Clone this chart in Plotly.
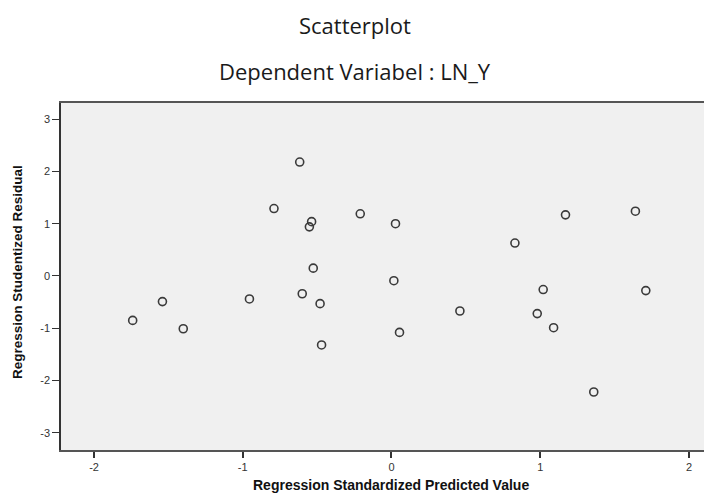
import plotly.graph_objects as go

# Regression standardized predicted values (x) and studentized residuals (y)
pred = [-1.74, -1.54, -1.40, -0.955, -0.79, -0.617, -0.60, -0.537, -0.552, -0.526,
        -0.48, -0.47, -0.21, 0.027, 0.016, 0.054, 0.46, 0.83, 0.98, 1.02,
        1.09, 1.17, 1.36, 1.64, 1.71]
resid = [-0.85, -0.49, -1.01, -0.44, 1.29, 2.18, -0.34, 1.04, 0.94, 0.15,
         -0.53, -1.32, 1.19, 1.00, -0.09, -1.08, -0.67, 0.63, -0.72, -0.26,
         -0.99, 1.17, -2.22, 1.24, -0.28]

x_ticks = [-2, -1, 0, 1, 2]
y_ticks = [-3, -2, -1, 0, 1, 2, 3]

title_line1 = "Scatterplot"
title_line2 = "Dependent Variabel : LN_Y"
x_title = "Regression Standardized Predicted Value"
y_title = "Regression Studentized Residual"

fig = go.Figure()
fig.add_trace(go.Scatter(
    x=pred, y=resid, mode="markers",
    marker=dict(symbol="circle-open", size=8, color="#3a3a3a", line=dict(width=1.6, color="#3a3a3a")),
    showlegend=False, hoverinfo="x+y",
))

axis_font = dict(family="Liberation Sans, Arial", size=11, color="#333333")

# page body has an 8px margin, so figure coords = reference coords - 8
fig.update_layout(
    width=704, height=485,
    margin=dict(l=53, r=0, t=95, b=43),
    paper_bgcolor="white",
    plot_bgcolor="#f0f0f0",
    showlegend=False,
    xaxis=dict(
        range=[-2.222, 2.155], tickvals=x_ticks, ticktext=[str(v) for v in x_ticks],
        showgrid=False, zeroline=False, showline=True, linecolor="#555555", linewidth=2,
        mirror=True, ticks="outside", ticklen=6, tickwidth=2, tickcolor="#333333",
        tickfont=axis_font,
    ),
    yaxis=dict(
        range=[-3.33, 3.31], tickvals=y_ticks, ticktext=[str(v) for v in y_ticks],
        showgrid=False, zeroline=False, showline=True, linecolor="#333333", linewidth=1.5,
        mirror=False, ticks="outside", ticklen=7, tickwidth=1, tickcolor="#333333",
        tickfont=axis_font,
    ),
    annotations=[
        dict(text=title_line1, xref="paper", yref="paper", x=0.452, y=1.0, yshift=78,
             showarrow=False, xanchor="center", yanchor="middle",
             font=dict(family="Open Sans, Noto Sans", size=22, color="#1a1a1a")),
        dict(text=title_line2, xref="paper", yref="paper", x=0.452, y=1.0, yshift=32,
             showarrow=False, xanchor="center", yanchor="middle",
             font=dict(family="Open Sans, Noto Sans", size=22, color="#1a1a1a")),
        dict(text="<b>" + x_title + "</b>", xref="x", yref="paper", x=0, y=0, yshift=-35,
             showarrow=False, xanchor="center", yanchor="middle",
             font=dict(family="Liberation Sans, Arial", size=14, color="#111111")),
        dict(text="<b>" + y_title + "</b>", xref="paper", yref="paper", x=0, y=0.513, xshift=-43,
             showarrow=False, xanchor="center", yanchor="middle", textangle=-90,
             font=dict(family="Liberation Sans, Arial", size=13.5, color="#111111")),
    ],
)

fig.write_html("out.html")
